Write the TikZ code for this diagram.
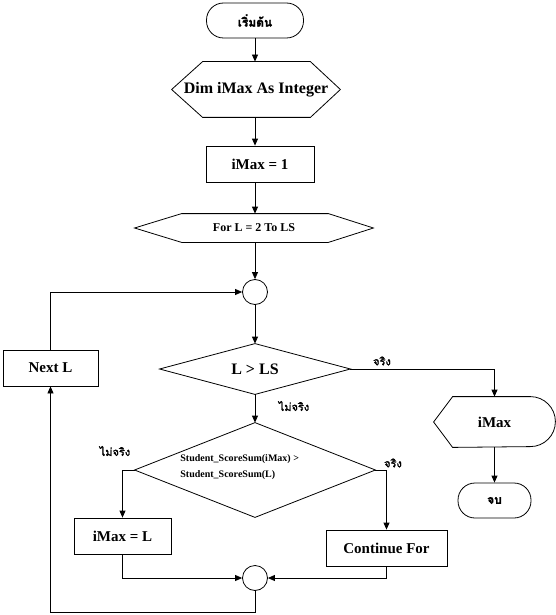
\documentclass[tikz,border=0pt]{standalone}
\usepackage{fontspec}
\setmainfont{Liberation Serif}
\newfontfamily\thaifont[Script=Thai,FakeBold=2]{Loma}
\usetikzlibrary{arrows.meta}
\begin{document}
\begin{tikzpicture}[x=1pt,y=-1pt, line width=0.8pt,
  arr/.style={-{Triangle[length=7pt,width=6pt]}},
  holder/.style={inner sep=0pt, font=\bfseries\fontsize{15}{17}\selectfont},
  boxnode/.style={holder, draw, rectangle},
  term/.style={holder, draw, rounded corners=17pt},
  junction/.style={draw, circle, minimum size=25pt, inner sep=0pt},
  lab/.style={font=\thaifont\fontsize{11}{13}\selectfont, inner sep=0pt}]
\useasboundingbox (0,0) rectangle (556,615);

\node[term, minimum width=97pt, minimum height=35pt] (start) at (255,20.5) {\thaifont\fontsize{12}{14}\selectfont เริ่มต้น};

\node[holder, minimum width=168pt, minimum height=55pt, font=\bfseries\fontsize{16}{18}\selectfont] (dim) at (256,89.5) {Dim iMax As Integer};
\draw (dim.west) -- ([xshift=31pt]dim.north west) -- ([xshift=-30pt]dim.north east) -- (dim.east) -- ([xshift=-30pt]dim.south east) -- ([xshift=31pt]dim.south west) -- cycle;

\node[boxnode, minimum width=108pt, minimum height=36pt] (i1) at (260,164) {iMax = 1};

\node[holder, minimum width=238pt, minimum height=28pt, font=\bfseries\fontsize{12}{14}\selectfont] (for) at (254,228) {For L = 2 To LS};
\draw (for.west) -- ([xshift=47pt]for.north west) -- ([xshift=-45pt]for.north east) -- (for.east) -- ([xshift=-45pt]for.south east) -- ([xshift=47pt]for.south west) -- cycle;

\node[junction] (c1) at (255,292) {};

\node[holder, minimum width=190pt, minimum height=50pt, font=\bfseries\fontsize{16}{18}\selectfont] (d1) at (255,369) {L > LS};
\draw (d1.west) -- (d1.north) -- (d1.east) -- (d1.south) -- cycle;

\node[boxnode, minimum width=95pt, minimum height=36pt] (nl) at (50.5,368) {Next L};

\node[holder, minimum width=121pt, minimum height=50pt] (out) at (494.5,422) {iMax};
\draw (out.west) -- ([xshift=19pt]out.north west) -- ([xshift=-25pt]out.north east) arc[start angle=90, end angle=-90, radius=25pt] -- ([xshift=19pt]out.south west) -- cycle;

\node[term, minimum width=73pt, minimum height=35pt] (end) at (494.5,500.5) {\thaifont\fontsize{12}{14}\selectfont จบ};

\node[holder, minimum width=240pt, minimum height=94pt] (d2) at (255,470) {};
\draw (d2.west) -- (d2.north) -- (d2.east) -- (d2.south) -- cycle;
\node[holder, align=left, font=\bfseries\fontsize{10}{16}\selectfont, anchor=west] (d2t) at (180,467) {Student\_ScoreSum(iMax) >\\Student\_ScoreSum(L)};

\node[boxnode, minimum width=97pt, minimum height=36pt] (iL) at (122.5,536) {iMax = L};
\node[boxnode, minimum width=121pt, minimum height=36pt] (cf) at (386.5,548) {Continue For};
\node[junction] (c2) at (255,578) {};
\coordinate (bl) at (255,612);

\draw[arr] (start.south) -- (start.south |- dim.north);
\draw[arr] (dim.south -| c1) -- (i1.north -| c1);
\draw[arr] (i1.south -| c1) -- (for.north -| c1);
\draw[arr] (for.south -| c1) -- (c1.north);
\draw[arr] (c1.south) -- (d1.north);
\draw[arr] (d1.east) -| (out.north);
\draw[arr] (out.south) -- (end.north);
\draw[arr] (d1.south) -- (d2.north);
\draw[arr] (d2.west) -| (iL.north);
\draw[arr] (d2.east) -| (cf.north);
\draw[arr] (iL.south) |- (c2.west);
\draw[arr] (cf.south) |- (c2.east);
\draw[arr] (c2.south) -- (bl) -| (nl.south);
\draw[arr] (nl.north) |- (c1.west);

\node[lab] (t1) at (382,361) {จริง};
\node[lab] (f1) at (294,406) {ไม่จริง};
\node[lab] (f2) at (115,451) {ไม่จริง};
\node[lab] (t2) at (393,463) {จริง};
\end{tikzpicture}
\end{document}
